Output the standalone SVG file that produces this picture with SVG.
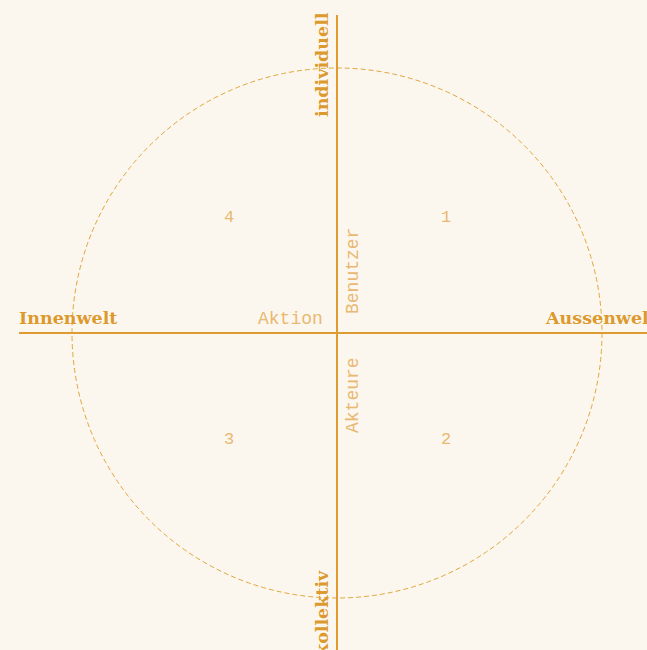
<svg xmlns="http://www.w3.org/2000/svg" width="647" height="650" viewBox="0 0 647 650">
<style>
.axis{stroke:#de9c30;stroke-width:2;fill:none}
.circ{stroke:#e0a63c;stroke-width:1;fill:none;stroke-dasharray:5 3}
.bold{font-family:"DejaVu Serif",serif;font-weight:bold;font-size:17.5px;fill:#dc9a2e}
.mono{font-family:"Liberation Mono",monospace;font-size:18px;fill:#e9b871}
.num{font-family:"Liberation Mono",monospace;font-size:17px;fill:#e9b871;text-anchor:middle}
</style>
<rect width="647" height="650" fill="#fcf7ee"/>
<g id="connectors">
<circle class="circ" cx="337" cy="333" r="265"/>
<line class="axis" x1="337" y1="15" x2="337" y2="650"/>
<line class="axis" x1="19" y1="333" x2="647" y2="333"/>
</g>
<g id="individuell"><text class="bold" transform="translate(328,117) rotate(-90)">individuell</text></g>
<g id="kollektiv"><text class="bold" transform="translate(328,656) rotate(-90)">kollektiv</text></g>
<g id="innenwelt"><text class="bold" x="19" y="324">Innenwelt</text></g>
<g id="aussenwelt"><text class="bold" x="546" y="324">Aussenwelt</text></g>
<g id="aktion"><text class="mono" x="258" y="324">Aktion</text></g>
<g id="benutzer"><text class="mono" transform="translate(358,314) rotate(-90)">Benutzer</text></g>
<g id="akteure"><text class="mono" transform="translate(358,433) rotate(-90)">Akteure</text></g>
<g id="q1"><text class="num" x="446" y="222">1</text></g>
<g id="q2"><text class="num" x="446" y="444">2</text></g>
<g id="q3"><text class="num" x="229" y="444">3</text></g>
<g id="q4"><text class="num" x="229" y="222">4</text></g>
</svg>
